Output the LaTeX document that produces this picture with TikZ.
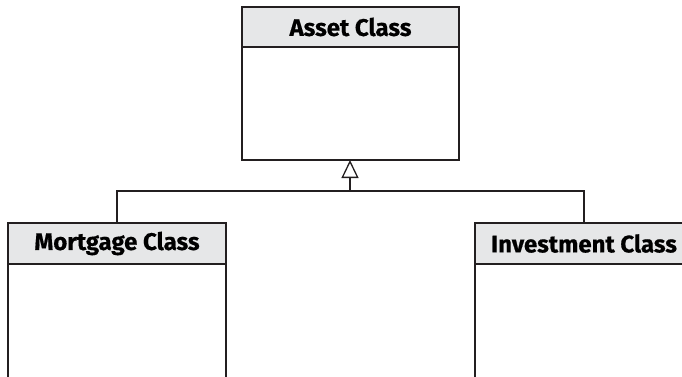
\documentclass[tikz,border=0pt]{standalone}
\usepackage{fontspec}
\setmainfont[BoldFeatures={FakeBold=0.6}]{Fira Sans}
\usetikzlibrary{arrows.meta}
\definecolor{hdr}{HTML}{E6E7E8}
\definecolor{ln}{HTML}{231F20}
\begin{document}
\begin{tikzpicture}[x=1pt,y=-1pt,
  boxline/.style={draw=ln,line width=1.4pt},
  hdrbox/.style={boxline,fill=hdr,inner sep=0pt,outer sep=0pt,font=\fontsize{24}{27}\selectfont\bfseries},
  bodybox/.style={boxline,fill=white,inner sep=0pt,outer sep=0pt},
  conn/.style={draw=ln,line width=2.4pt},
  inh/.style={-{Triangle[open,length=18pt,width=17pt,line width=1.3pt,fill=white]}}]
\useasboundingbox (0,0) rectangle (682,376);
\clip (0,0) rectangle (682,376);
% Asset
\node[hdrbox,minimum width=217pt,minimum height=40pt,anchor=north west] (ah) at (242,7) {Asset Class};
\node[bodybox,minimum width=217pt,minimum height=113pt,anchor=north west] (ab) at (ah.south west) {};
% Mortgage
\node[hdrbox,minimum width=218pt,minimum height=41pt,anchor=north west] (mh) at (8,223) {Mortgage Class};
\node[bodybox,minimum width=218pt,minimum height=130pt,anchor=north west] (mb) at (mh.south west) {};
% Investment
\node[hdrbox,minimum width=218pt,minimum height=41pt,anchor=north west] (ih) at (475,223) {Investment Class};
\node[bodybox,minimum width=218pt,minimum height=130pt,anchor=north west] (ib) at (ih.south west) {};
% connectors
\coordinate (j) at (350,191);
\draw[conn] (mh.north) |- (j) -| (ih.north);
\draw[conn,inh] (j) -- (ab.south -| j);
\end{tikzpicture}
\end{document}
